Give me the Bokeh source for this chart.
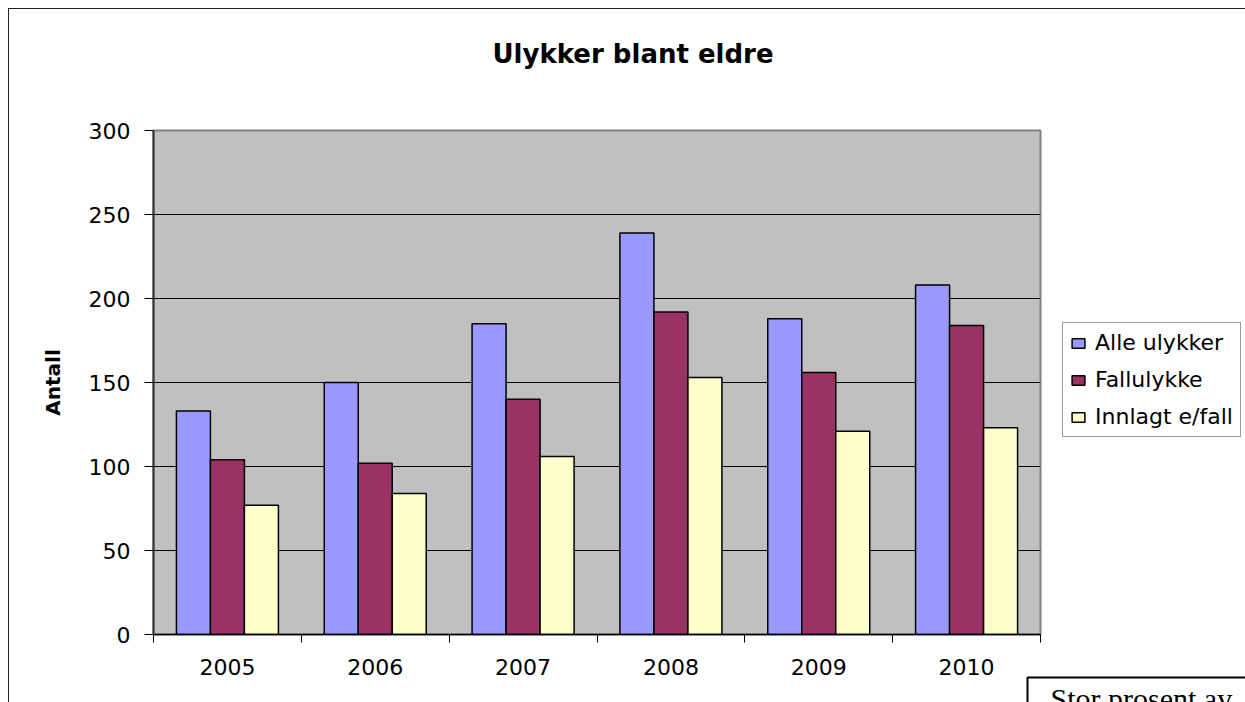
from bokeh.plotting import figure
from bokeh.models import (Range1d, FixedTicker, Legend, LegendItem,
                          ColumnDataSource, Title)
from bokeh.embed import file_html
from bokeh.resources import INLINE

years = ["2005", "2006", "2007", "2008", "2009", "2010"]
alle_ulykker = [133, 150, 185, 239, 188, 208]
fallulykke = [104, 102, 140, 192, 156, 184]
innlagt_efall = [77, 84, 106, 153, 121, 123]
series_names = ["Alle ulykker", "Fallulykke", "Innlagt e/fall"]
series_colors = ["#9999FF", "#993366", "#FFFFCC"]
y_ticks = [0, 50, 100, 150, 200, 250, 300]

FONT = "DejaVu Sans"

p = figure(frame_width=887, frame_height=504, output_backend="svg",
           toolbar_location=None,
           x_range=Range1d(0, len(years)), y_range=Range1d(0, 300),
           title=None,
           min_border_left=144, min_border_right=260,
           min_border_top=121, min_border_bottom=60)
p.styles = {"margin-left": "8px", "margin-top": "8px",
            "border-left": "1px solid #222222", "border-top": "1px solid #222222"}
p.background_fill_color = "#C0C0C0"
p.border_fill_color = "white"
p.outline_line_color = "#808080"
p.outline_line_width = 2

centers = [i + 0.5 for i in range(len(years))]
offsets = [-0.23, 0.0, 0.23]
all_series = [alle_ulykker, fallulykke, innlagt_efall]
renderers = []
for vals, off, col in zip(all_series, offsets, series_colors):
    src = ColumnDataSource(dict(x=[c + off for c in centers], top=vals))
    r = p.vbar(x="x", top="top", width=0.23, bottom=0, source=src,
               fill_color=col, line_color="black", line_width=1.5)
    renderers.append(r)

# grid
p.xgrid.visible = False
p.ygrid.ticker = FixedTicker(ticks=y_ticks)
p.ygrid.grid_line_color = "black"
p.ygrid.grid_line_width = 1

# x axis
xa = p.xaxis[0]
xa.ticker = FixedTicker(ticks=centers, minor_ticks=list(range(len(years) + 1)))
xa.major_label_overrides = {c: y for c, y in zip(centers, years)}
xa.major_tick_out = 0
xa.major_tick_in = 0
xa.minor_tick_out = 8
xa.minor_tick_in = 0
xa.minor_tick_line_color = "black"
xa.minor_tick_line_width = 1
xa.axis_line_color = "black"
xa.axis_line_width = 1.5
xa.major_label_text_font = FONT
xa.major_label_text_font_size = "22px"
xa.major_label_text_color = "black"
xa.major_label_standoff = 16

# y axis
ya = p.yaxis[0]
ya.ticker = FixedTicker(ticks=y_ticks)
ya.major_tick_out = 9
ya.major_tick_in = 0
ya.minor_tick_line_color = None
ya.major_tick_line_color = "black"
ya.axis_line_color = "#333333"
ya.axis_line_width = 2
ya.major_label_text_font = FONT
ya.major_label_text_font_size = "22px"
ya.major_label_text_color = "black"
ya.major_label_standoff = 14
ya.axis_label = "Antall"
ya.axis_label_text_font = FONT
ya.axis_label_text_font_style = "bold"
ya.axis_label_text_font_size = "20px"
ya.axis_label_text_color = "black"
ya.axis_label_standoff = 21

# title: spacer nearest the frame, real title above it
p.add_layout(Title(text=" ", text_font_size="10px", standoff=20), "above")
p.add_layout(Title(text="Ulykker blant eldre", text_font=FONT,
                   text_font_style="bold", text_font_size="26px",
                   text_color="black", align="left", offset=339,
                   vertical_align="top", standoff=54), "above")

# legend in the right panel
legend = Legend(items=[LegendItem(label=n, renderers=[r])
                       for n, r in zip(series_names, renderers)],
                location=(22, 197))
legend.label_text_font = FONT
legend.label_text_font_size = "22px"
legend.label_text_color = "black"
legend.glyph_width = 16
legend.glyph_height = 12
legend.label_standoff = 9
legend.padding = 7
legend.spacing = 12
legend.margin = 0
legend.border_line_color = "#333333"
legend.border_line_width = 1.5
legend.background_fill_color = "white"
legend.background_fill_alpha = 1
p.add_layout(legend, "right")

# text box of the surrounding document, below the axis
p.add_layout(Title(text="Stor prosent av", text_font="Liberation Serif",
                   text_font_size="30px", text_font_style="normal",
                   text_color="black", align="left", offset=874,
                   vertical_align="top", standoff=0,
                   padding=dict(left=23, right=60, top=4, bottom=60),
                   border_line_color="black", border_line_width=2,
                   background_fill_color="white"), "below")

open("out.html", "w").write(file_html(p, INLINE))
